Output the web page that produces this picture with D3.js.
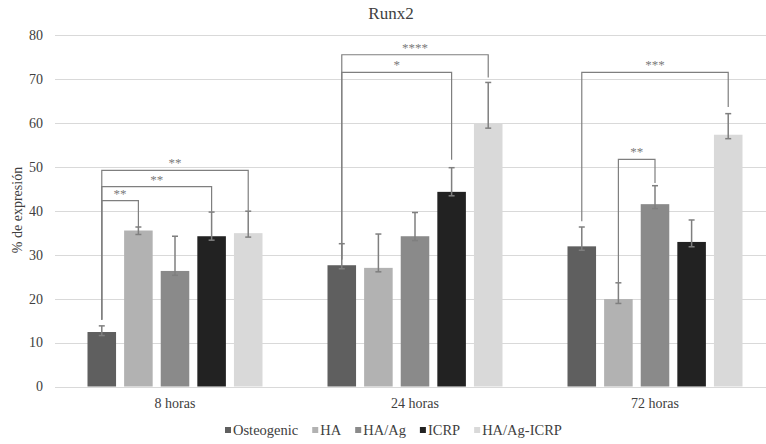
<!DOCTYPE html>
<html>
<head>
<meta charset="utf-8">
<script src="https://cdn.jsdelivr.net/npm/d3@7"></script>
<style>
	body { margin: 0; background: #fff; }
</style>
</head>
<body>
<svg id="chart" width="766" height="444" font-family="'Liberation Serif', 'Times New Roman', serif"></svg>
<script>
var categories = ['8 horas', '24 horas', '72 horas'];
var series = ['Osteogenic', 'HA', 'HA/Ag', 'ICRP', 'HA/Ag-ICRP'];
var colors = ['#5f5f5f', '#b2b2b2', '#8a8a8a', '#222222', '#d9d9d9'];

// mean values per series, one per category
var osteogenic = [12.4, 27.6, 31.9];
var ha = [35.5, 27.0, 19.9];
var haAg = [26.3, 34.2, 41.5];
var icrp = [34.2, 44.3, 32.9];
var haAgIcrp = [34.9, 59.9, 57.3];

// error bars (up / down)
var errUp = [[1.4, 4.9, 4.4], [0.8, 7.7, 3.7], [7.9, 5.4, 4.2], [5.5, 5.5, 5.0], [5.0, 9.3, 4.8]];
var errDown = [[0.8, 0.8, 0.9], [0.9, 0.9, 1.0], [1.0, 1.0, 1.0], [0.9, 0.9, 1.1], [0.9, 1.1, 0.9]];

var yTicks = [0, 10, 20, 30, 40, 50, 60, 70, 80];

// significance brackets: category, from series, to series, level, left drop, right drop, label
var brackets = [
	{ cat: 0, from: 0, to: 4, level: 49.2, left: 15.2, right: 40.0, label: '**' },
	{ cat: 0, from: 0, to: 3, level: 45.5, left: 15.2, right: 39.8, label: '**' },
	{ cat: 0, from: 0, to: 1, level: 42.3, left: 15.2, right: 36.1, label: '**' },
	{ cat: 1, from: 0, to: 4, level: 75.5, left: 28.9, right: 70.3, label: '****' },
	{ cat: 1, from: 0, to: 3, level: 71.5, left: 28.9, right: 51.6, label: '*' },
	{ cat: 2, from: 0, to: 4, level: 71.5, left: 37.6, right: 63.6, label: '***' },
	{ cat: 2, from: 1, to: 2, level: 51.7, left: 23.8, right: 46.3, label: '**' }
];

var values = [osteogenic, ha, haAg, icrp, haAgIcrp];

var svg = d3.select('#chart');
var textColor = '#404040';

var scaleX = d3.scaleBand().domain(categories).range([55, 775]);
var scaleX1 = d3.scaleBand().domain(d3.range(series.length)).range([32.5, 207.5]).paddingInner(0.22);
var scaleY = d3.scaleLinear().domain([0, 80]).range([386.5, 35]);

function barX(c, s) { return scaleX(categories[c]) + scaleX1(s); }
function barMid(c, s) { return barX(c, s) + scaleX1.bandwidth() / 2; }

// gridlines
svg.append('g').selectAll('line')
	.data(yTicks)
	.enter().append('line')
	.attr('x1', 55).attr('x2', 766)
	.attr('y1', function (d) { return Math.round(scaleY(d)) + 0.5; })
	.attr('y2', function (d) { return Math.round(scaleY(d)) + 0.5; })
	.attr('stroke', '#d9d9d9')
	.attr('stroke-width', 1);

// y tick labels
svg.append('g').selectAll('text')
	.data(yTicks)
	.enter().append('text')
	.attr('x', 43)
	.attr('y', function (d) { return scaleY(d); })
	.attr('dy', '0.35em')
	.attr('text-anchor', 'end')
	.attr('font-size', 14)
	.attr('fill', textColor)
	.text(function (d) { return d; });

// bars
var cells = [];
values.forEach(function (arr, s) {
	arr.forEach(function (v, c) {
		cells.push({ s: s, c: c, v: v, up: errUp[s][c], down: errDown[s][c] });
	});
});

svg.append('g').selectAll('rect')
	.data(cells)
	.enter().append('rect')
	.attr('x', function (d) { return barX(d.c, d.s); })
	.attr('y', function (d) { return scaleY(d.v); })
	.attr('width', scaleX1.bandwidth())
	.attr('height', function (d) { return scaleY(0) - scaleY(d.v); })
	.attr('fill', function (d) { return colors[d.s]; });

// error bars
var eb = svg.append('g').attr('stroke', '#7f7f7f').attr('stroke-width', 1.5).attr('fill', 'none');
cells.forEach(function (d) {
	var x = barMid(d.c, d.s);
	var y1 = scaleY(d.v + d.up), y2 = scaleY(d.v - d.down);
	eb.append('line').attr('x1', x).attr('x2', x).attr('y1', y1).attr('y2', y2);
	eb.append('line').attr('x1', x - 3).attr('x2', x + 3).attr('y1', y1).attr('y2', y1);
	eb.append('line').attr('x1', x - 3).attr('x2', x + 3).attr('y1', y2).attr('y2', y2);
});

// significance brackets
var br = svg.append('g');
brackets.forEach(function (b) {
	var xa = barMid(b.cat, b.from), xb = barMid(b.cat, b.to);
	br.append('path')
		.attr('d', 'M' + xa + ',' + scaleY(b.left) + 'V' + scaleY(b.level) + 'H' + xb + 'V' + scaleY(b.right))
		.attr('fill', 'none')
		.attr('stroke', '#7f7f7f')
		.attr('stroke-width', 1.2);
	br.append('text')
		.attr('x', (xa + xb) / 2)
		.attr('y', scaleY(b.level) - 3)
		.attr('text-anchor', 'middle')
		.attr('font-size', 13)
		.attr('fill', '#7a7a7a')
		.text(b.label);
});

// category labels
svg.append('g').selectAll('text')
	.data(categories)
	.enter().append('text')
	.attr('x', function (d) { return scaleX(d) + scaleX.bandwidth() / 2; })
	.attr('y', 408)
	.attr('text-anchor', 'middle')
	.attr('font-size', 14)
	.attr('fill', textColor)
	.text(function (d) { return d; });

// title
svg.append('text')
	.attr('x', 391).attr('y', 19)
	.attr('text-anchor', 'middle')
	.attr('font-size', 17)
	.attr('fill', textColor)
	.text('Runx2');

// y axis title
svg.append('text')
	.attr('transform', 'translate(22,210) rotate(-90)')
	.attr('text-anchor', 'middle')
	.attr('font-size', 14)
	.attr('fill', textColor)
	.text('% de expresión');

// legend
var legend = svg.append('g');
var lx = 225;
series.forEach(function (name, i) {
	legend.append('rect')
		.attr('x', lx).attr('y', 427)
		.attr('width', 6).attr('height', 6)
		.attr('fill', colors[i]);
	var t = legend.append('text')
		.attr('x', lx + 8).attr('y', 430)
		.attr('dy', '0.35em')
		.attr('font-size', 14.5)
		.attr('fill', textColor)
		.text(name);
	lx += 8 + t.node().getComputedTextLength() + 14;
});
</script>
</body>
</html>
